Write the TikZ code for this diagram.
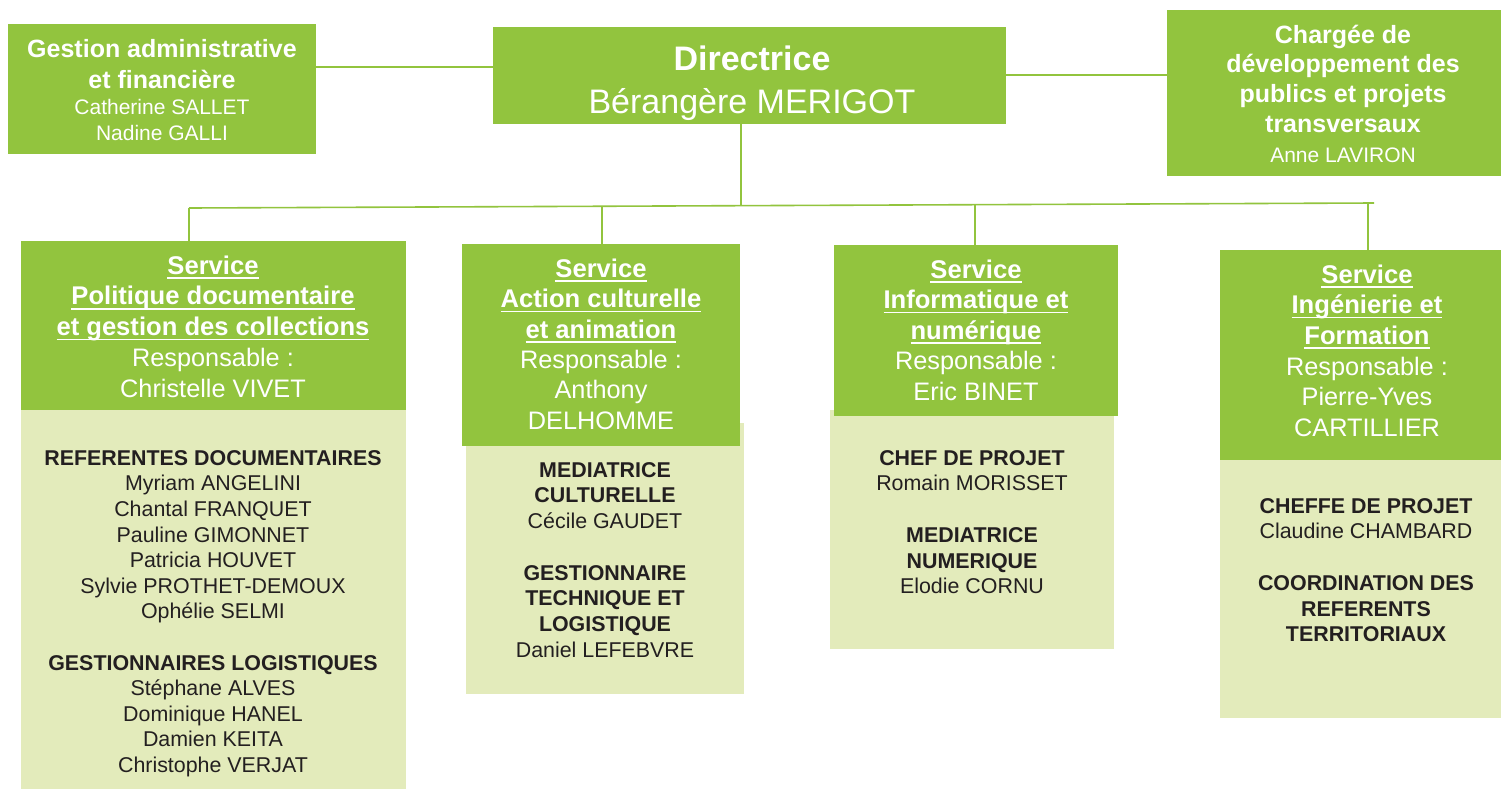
\documentclass[tikz,border=0pt]{standalone}
\usepackage{fontspec}
\setmainfont{Liberation Sans}
\definecolor{gr}{RGB}{146,196,62}
\definecolor{lg}{RGB}{227,235,187}
\definecolor{dk}{RGB}{35,31,32}
\newcommand\myul[1]{\setbox0=\hbox{#1}\rlap{\rule[-4.6pt]{\wd0}{1.7pt}}\box0}
\newcommand\fsz[2]{\fontsize{#1}{#2}\selectfont\lineskiplimit=-100pt\lineskip=0pt}
\newcommand\ttl{\bfseries\fontsize{25}{30}\selectfont}
\newcommand\uh[1]{\myul{\bfseries\fontsize{25.6}{30}\selectfont #1}}
\tikzset{
  gbox/.style={rectangle, fill=gr, draw=none, inner sep=0pt},
  lbox/.style={rectangle, fill=lg, draw=none, inner sep=0pt},
  wtxt/.style={inner sep=0pt, anchor=north, align=center, text=white},
  dtxt/.style={inner sep=0pt, anchor=north, align=center, text=dk, font=\fsz{21.4}{25.7}},
  conn/.style={draw=gr, line width=1.6pt}
}
\begin{document}
\begin{tikzpicture}[x=1pt,y=-1pt]
\useasboundingbox[fill=white] (0,0) rectangle (1501,790);

% boxes
\node[gbox, minimum width=308pt, minimum height=130pt] (gest) at (162,89) {};
\node[gbox, minimum width=513pt, minimum height=97pt] (dir) at (749.5,75.5) {};
\node[gbox, minimum width=334pt, minimum height=166pt] (charg) at (1334,93) {};

\node[lbox, minimum width=385pt, minimum height=379pt] (s1l) at (213.5,599.5) {};
\node[gbox, minimum width=385pt, minimum height=169pt] (s1g) at (213.5,325.5) {};
\node[lbox, minimum width=278pt, minimum height=271pt] (s2l) at (605,558.5) {};
\node[gbox, minimum width=278pt, minimum height=202pt] (s2g) at (601,345) {};
\node[lbox, minimum width=284pt, minimum height=239pt] (s3l) at (972,529.5) {};
\node[gbox, minimum width=284pt, minimum height=171pt] (s3g) at (976,330.5) {};
\node[lbox, minimum width=281pt, minimum height=258pt] (s4l) at (1360.5,589) {};
\node[gbox, minimum width=281pt, minimum height=210pt] (s4g) at (1360.5,355) {};

% connectors
\coordinate (h1) at (0,67);
\coordinate (h2) at (0,75);
\coordinate (b1) at (189,208);
\coordinate (bR) at (1374,203);
\coordinate (dv) at (741,205.7);
\coordinate (d2) at (602,206.3);
\coordinate (d3) at (975,204.7);
\coordinate (d4) at (1368,203.1);
\draw[conn] (gest.east |- h1) -- (dir.west |- h1);
\draw[conn] (dir.east |- h2) -- (charg.west |- h2);
\draw[conn] (dv |- dir.south) -- (dv);
\draw[conn] (b1) -- (bR);
\draw[conn] (b1) -- (b1 |- s1g.north);
\draw[conn] (d2) -- (d2 |- s2g.north);
\draw[conn] (d3) -- (d3 |- s3g.north);
\draw[conn] (d4) -- (d4 |- s4g.north);

% texts
\node[wtxt, font=\fsz{21}{26}] (tgest) at (162,33)
  {\rule{0pt}{24pt}{\ttl Gestion administrative}\\[5pt]{\ttl et financière}\\Catherine SALLET\\Nadine GALLI};
\node[wtxt, font=\fsz{34}{42.4}] (tdir) at (752,38.6)
  {\rule{0pt}{32pt}{\bfseries Directrice}\\Bérangère MERIGOT};
\node[wtxt, font=\fsz{21}{29.7}] (tcharg) at (1343,19)
  {\rule{0pt}{24pt}{\ttl Chargée de}\\{\ttl développement des}\\{\ttl publics et projets}\\{\ttl transversaux}\\Anne LAVIRON};

\node[wtxt, font=\fsz{25.3}{30.7}] (ts1g) at (213,250)
  {\rule{0pt}{24pt}\uh{Service}\\\uh{Politique documentaire}\\\uh{et gestion des collections}\\Responsable :\\Christelle VIVET};
\node[dtxt, font=\fsz{21.4}{25.6}] (ts1l) at (213,445)
  {\rule{0pt}{20pt}{\bfseries REFERENTES DOCUMENTAIRES}\\Myriam ANGELINI\\Chantal FRANQUET\\Pauline GIMONNET\\Patricia HOUVET\\Sylvie PROTHET-DEMOUX\\Ophélie SELMI\\[25.6pt]{\bfseries GESTIONNAIRES LOGISTIQUES}\\Stéphane ALVES\\Dominique HANEL\\Damien KEITA\\Christophe VERJAT};

\node[wtxt, font=\fsz{25.3}{30.4}] (ts2g) at (601,253)
  {\rule{0pt}{24pt}\uh{Service}\\\uh{Action culturelle}\\\uh{et animation}\\Responsable :\\Anthony\\DELHOMME};
\node[dtxt] (ts2l) at (605,457)
  {\rule{0pt}{20pt}{\bfseries MEDIATRICE}\\{\bfseries CULTURELLE}\\Cécile GAUDET\\[25.7pt]{\bfseries GESTIONNAIRE}\\{\bfseries TECHNIQUE ET}\\{\bfseries LOGISTIQUE}\\Daniel LEFEBVRE};

\node[wtxt, font=\fsz{25.3}{30.5}] (ts3g) at (976,254)
  {\rule{0pt}{24pt}\uh{Service}\\\uh{Informatique et}\\\uh{numérique}\\Responsable :\\Eric BINET};
\node[dtxt] (ts3l) at (972,445)
  {\rule{0pt}{20pt}{\bfseries CHEF DE PROJET}\\Romain MORISSET\\[25.7pt]{\bfseries MEDIATRICE}\\{\bfseries NUMERIQUE}\\Elodie CORNU};

\node[wtxt, font=\fsz{25.3}{30.6}] (ts4g) at (1367,259)
  {\rule{0pt}{24pt}\uh{Service}\\\uh{Ingénierie et}\\\uh{Formation}\\Responsable :\\Pierre-Yves\\CARTILLIER};
\node[dtxt] (ts4l) at (1366,493)
  {\rule{0pt}{20pt}{\bfseries CHEFFE DE PROJET}\\Claudine CHAMBARD\\[25.7pt]{\bfseries COORDINATION DES}\\{\bfseries REFERENTS}\\{\bfseries TERRITORIAUX}};
\end{tikzpicture}
\end{document}
